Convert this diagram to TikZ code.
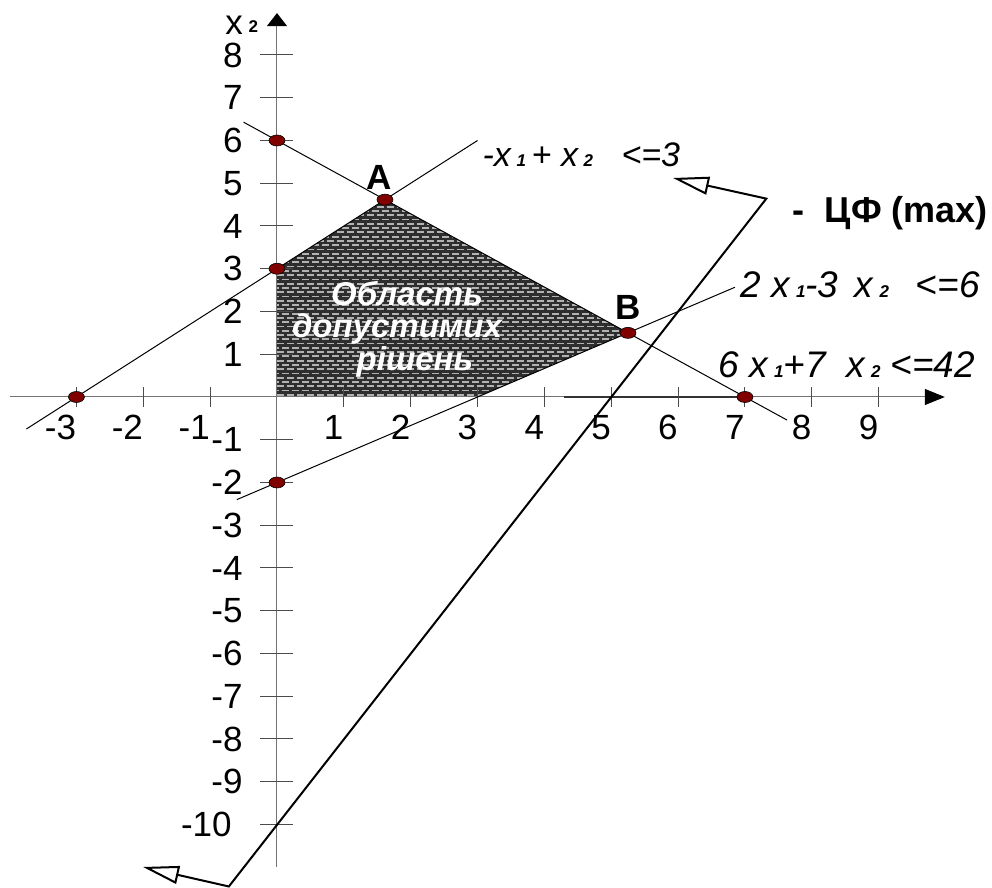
\documentclass[tikz,border=0pt]{standalone}
\usepackage{fontspec}
\setmainfont{Liberation Sans}
\usetikzlibrary{arrows.meta}
\usetikzlibrary{positioning}
\usetikzlibrary{shapes, shapes.geometric}

\newcommand{\xsub}[1]{{\fontsize{8.5}{9}\selectfont\bfseries\itshape #1}}

\begin{document}
\begin{tikzpicture}[x=33.425pt, y=21.375pt,
        vdot/.style={ellipse, draw=black, line width=0.3pt, fill=red!50!black,
            minimum width=8pt, minimum height=5.5pt, inner sep=0pt},
        num/.style={inner sep=0pt, font=\fontsize{17.5}{20}\selectfont},
        tick/.style={black!70, line width=0.5pt},
        cline/.style={black, line width=0.5pt},
        eqn/.style={inner sep=0pt, font=\fontsize{18.5}{21}\selectfont\itshape},
        bold/.style={inner sep=0pt, font=\fontsize{17.5}{20}\selectfont\bfseries},
        reg/.style={inner sep=0pt, text=white, font=\fontsize{16.5}{20}\selectfont\bfseries\itshape},
        ofarrow/.style={line width=1pt,
            {Triangle[open, length=18pt, width=9pt]}-{Triangle[open, length=18pt, width=9pt]}}]
    \useasboundingbox (-4.1436,-11.4854) rectangle (10.6956,9.2866);

    % Feasible region
    \begin{scope}
        \clip (0,0) -- (0,3) -- (21/13,60/13) -- (5.25,1.5) -- (3,0) -- cycle;
        \fill[black!82] (0,0) rectangle (5.4,4.8);
        \foreach \k in {0,2,...,46}
            \draw[gray!60, line width=0.9pt, dash pattern=on 3.5pt off 1.5pt]
                (0,\k*0.1+0.05) -- (5.4,\k*0.1+0.05);
        \foreach \k in {1,3,...,47}
            \draw[gray!60, line width=0.9pt, dash pattern=on 3.5pt off 1.5pt, dash phase=2.5pt]
                (0,\k*0.1+0.05) -- (5.4,\k*0.1+0.05);
    \end{scope}

    % Axes
    \coordinate (xs) at (-3.99,0);
    \coordinate (xe) at (9.99,0);
    \coordinate (ys) at (0,-10.99);
    \coordinate (ye) at (0,8.98);
    \draw[black!55, line width=0.5pt, -{Triangle[length=10pt, width=8pt, color=black]}] (xs) -- (xe);
    \draw[black!55, line width=0.5pt, -{Triangle[length=6.5pt, width=10pt, color=black]}] (ys) -- (ye);
    \draw[black!80, line width=0.6pt] (4.3,0) -- (7,0);
    \node[num, anchor=base west] (x2lbl) at (-0.778,8.468) {x\,\raisebox{1pt}{\fontsize{8.5}{9}\selectfont\bfseries 2}};

    \foreach \x [count=\i] in {-3,-2,-1,1,2,3,4,5,6,7,8,9} {
        \draw[tick] (\x,-0.234) -- (\x,0.234);
        \node[num, anchor=north east] (xl\i) at (\x,-0.42) {\x};
    }
    \foreach \y [count=\i] in {8,7,6,5,4,3,2,1,-1,-2,-3,-4,-5,-6,-7,-8,-9} {
        \draw[tick] (-0.254,\y) -- (0.239,\y);
        \node[num, anchor=east] (yl\i) at (-0.51,\y) {\y};
    }
    \draw[tick] (-0.254,-10) -- (0.239,-10);
    \node[num, anchor=east] (yl18) at (-0.673,-10) {-10};

    % Constraint lines
    \draw[cline] (-3.75,-0.75) -- (3,6);
    \draw[cline] (-0.5,6.4286) -- (7.63,-0.54);
    \draw[cline] (-0.6,-2.4) -- (6.85,2.5667);

    % Objective function
    \coordinate (ofB) at (-0.72,-11.45);
    \coordinate (ofT) at (7.32,4.64);
    \coordinate (ofTa) at (5.924,5.123);
    \coordinate (ofBa) at (-2.004,-10.994);
    \draw[ofarrow] (ofBa) -- (ofB) -- (ofT) -- (ofTa);

    % Vertices
    \node[vdot] (pa) at (-3,0) {};
    \node[vdot] (pb) at (0,3) {};
    \node[vdot] (pc) at (0,6) {};
    \node[vdot] (A) at (21/13,60/13) {};
    \node[vdot] (B) at (5.25,1.5) {};
    \node[vdot] (pd) at (7,0) {};
    \node[vdot] (pe) at (0,-2) {};
    \node[bold, above=2pt of A, xshift=-3pt] (Albl) {A};
    \node[bold, above=3.5pt of B] (Blbl) {B};

    % Labels
    \node[eqn, font=\fontsize{17}{20}\selectfont\itshape, anchor=west] (eq1) at (3.07,5.66)
        {-x\,\xsub{1}\,+\ x\,\xsub{2}\ \ \ <=3};
    \node[eqn, anchor=west] (eq2) at (6.93,2.62) {2\ x\,\xsub{1}-3\ \,x\,\xsub{2}\ \ \,<=6};
    \node[eqn, anchor=west] (eq3) at (6.60,0.75) {6\ x\,\xsub{1}+7\ \ x\,\xsub{2}\ <=42};
    \node[inner sep=0pt, font=\fontsize{18}{21}\selectfont\bfseries, anchor=east] (cf) at (10.64,4.30) {-\ \ ЦФ (max)};

    \node[reg, anchor=base] (r1) at (1.945,2.15) {Область};
    \node[reg, anchor=base] (r2) at (1.795,1.38) {допустимих};
    \node[reg, anchor=base] (r3) at (2.064,0.63) {рішень};
\end{tikzpicture}
\end{document}
